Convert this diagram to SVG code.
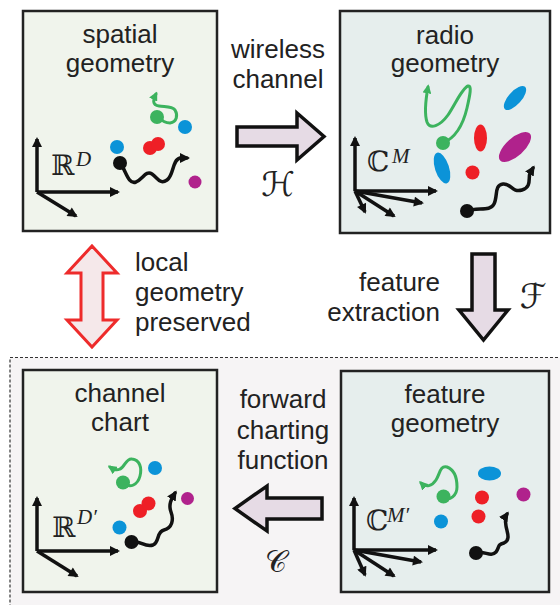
<svg xmlns="http://www.w3.org/2000/svg" width="560" height="605" viewBox="0 0 560 605">
<defs>
<style>
.box{stroke:#222;stroke-width:2.5}
.g1{fill:#f0f4ec}
.g2{fill:#e6eeed}
.t{font-family:"Liberation Sans",Arial,sans-serif;font-size:26px;fill:#222;text-anchor:middle}
.tl{text-anchor:start}
.tr{text-anchor:end}
.bb{font-family:"DejaVu Serif","DejaVu Sans",serif;font-size:28px;fill:#222}
.sup{font-family:"Liberation Serif","DejaVu Serif",serif;font-style:italic;font-size:21px;fill:#222}
.scr{font-family:"DejaVu Serif","DejaVu Sans",serif;font-size:34px;fill:#222;text-anchor:middle}
.ax{stroke:#111;stroke-width:3.5;fill:none;marker-end:url(#ah)}
.bk{stroke:#111;stroke-width:3.5;fill:none;stroke-linecap:round;marker-end:url(#ahb)}
.gr{stroke:#3cb35e;stroke-width:3;fill:none;stroke-linecap:round;stroke-linejoin:round;marker-end:url(#ahg)}
.big{fill:#e6dbe5;stroke:#111;stroke-width:3.5;stroke-linejoin:miter}
.blue{fill:#0b93d8}.red{fill:#ee1f26}.mag{fill:#b0228c}.grn{fill:#3cb35e}.blk{fill:#111}
</style>
<marker id="ah" viewBox="0 0 10 10" refX="8" refY="5" markerWidth="12" markerHeight="10" markerUnits="userSpaceOnUse" orient="auto"><path d="M0,0 L10,5 L0,10 z" fill="#111"/></marker>
<marker id="ahb" viewBox="0 0 10 10" refX="7" refY="5" markerWidth="10" markerHeight="10" markerUnits="userSpaceOnUse" orient="auto"><path d="M0,0 L10,5 L0,10 z" fill="#111"/></marker>
<marker id="ahg" viewBox="0 0 10 10" refX="7" refY="5" markerWidth="9" markerHeight="9" markerUnits="userSpaceOnUse" orient="auto"><path d="M0,0 L10,5 L0,10 z" fill="#3cb35e"/></marker>
</defs>
<rect width="560" height="605" fill="#fff"/>
<rect x="10" y="357.5" width="560" height="260" fill="#f6f4f5" stroke="#333" stroke-width="1.2" stroke-dasharray="3 2"/>

<g id="spatial">
<rect class="box g1" x="23" y="11" width="194" height="220"/>
<text class="t" x="120" y="43">spatial</text>
<text class="t" x="120" y="72">geometry</text>
<path class="ax" d="M37,192 V139"/>
<path class="ax" d="M37,192 H118"/>
<path class="ax" d="M37,192 L76,216"/>
<text class="bb" x="51" y="175">ℝ</text>
<text class="sup" x="76" y="166">D</text>
<path class="gr" d="M158,117 C162,121 166,123 170,123 C177,122 178,115 175,110 C172,106 165,107 159,106 C152,105 153,100 156,94"/>
<circle class="grn" cx="157" cy="117" r="7"/>
<circle class="blue" cx="185" cy="127" r="7"/>
<circle class="blue" cx="117" cy="147" r="7"/>
<circle class="red" cx="150" cy="148" r="7"/>
<circle class="red" cx="158" cy="144" r="7"/>
<path class="bk" d="M120,163 C126,170 128,185 136,182 C143,179 146,170 152,174 C158,178 160,185 167,180 C174,175 172,160 180,158 L187,158"/>
<circle class="blk" cx="120" cy="163" r="7"/>
<circle class="mag" cx="195" cy="182" r="6.5"/>
</g>

<g id="radio">
<rect class="box g2" x="340" y="11" width="210" height="222"/>
<text class="t" x="445" y="44">radio</text>
<text class="t" x="445" y="72">geometry</text>
<path class="ax" d="M355,191 V138"/>
<path class="ax" d="M355,191 H436"/>
<path class="ax" d="M355,191 L422,203"/>
<path class="ax" d="M355,191 L394,216"/>
<path class="ax" d="M355,191 L365,212"/>
<text class="bb" x="367" y="171">ℂ</text>
<text class="sup" x="392" y="163">M</text>
<path class="gr" d="M443,143 C455,138 463,125 467,108 C470,95 472,85 468,86 C462,88 455,105 448,115 C440,126 430,130 427,122 C424,113 426,98 428,87"/>
<circle class="grn" cx="443" cy="143" r="7"/>
<ellipse class="blue" cx="515" cy="98" rx="6.5" ry="15" transform="rotate(42 515 98)"/>
<ellipse class="red" cx="480.5" cy="138" rx="6.5" ry="13.5"/>
<ellipse class="mag" cx="515" cy="147" rx="9" ry="20" transform="rotate(48 515 147)"/>
<ellipse class="blue" cx="442" cy="168" rx="7" ry="16" transform="rotate(-18 442 168)"/>
<circle class="red" cx="472.5" cy="172.5" r="7"/>
<path class="bk" d="M467,211 C478,207 490,212 494,204 C498,196 494,185 503,184 C511,183 512,193 522,190 C532,187 528,178 530,173 L533,168"/>
<circle class="blk" cx="467" cy="211" r="7"/>
</g>

<g id="chart">
<rect class="box g1" x="23" y="370" width="194" height="222"/>
<text class="t" x="120" y="402">channel</text>
<text class="t" x="120" y="431">chart</text>
<path class="ax" d="M37,551 V498"/>
<path class="ax" d="M37,551 H118"/>
<path class="ax" d="M37,551 L77,576"/>
<text class="bb" x="52" y="537">ℝ</text>
<text class="sup" x="77" y="524">D′</text>
<path class="gr" d="M123,482 C130,490 138,484 140,476 C142,468 140,460 132,459 C126,458 125,467 120,469 C116,471 113,469 110,467"/>
<circle class="grn" cx="123" cy="482.5" r="7"/>
<circle class="blue" cx="155" cy="468" r="7"/>
<circle class="red" cx="140" cy="511" r="7"/>
<circle class="red" cx="148.5" cy="503.5" r="7"/>
<circle class="mag" cx="187.5" cy="498.5" r="6.5"/>
<circle class="blue" cx="119.5" cy="527.5" r="7"/>
<path class="bk" d="M132,542 C140,540 145,548 153,545 C160,542 156,532 164,530 C172,528 174,520 171,512 C168,504 172,498 175,493"/>
<circle class="blk" cx="131.5" cy="542" r="7"/>
</g>

<g id="feature">
<rect class="box g2" x="341" y="371" width="208" height="221"/>
<text class="t" x="445" y="403">feature</text>
<text class="t" x="445" y="432">geometry</text>
<path class="ax" d="M354,550 V498"/>
<path class="ax" d="M354,550 H436"/>
<path class="ax" d="M354,550 L421,562"/>
<path class="ax" d="M354,550 L394,576"/>
<path class="ax" d="M354,550 L365,575"/>
<text class="bb" x="366" y="530">ℂ</text>
<text class="sup" x="387" y="522">M′</text>
<path class="gr" d="M443,497 C450,502 457,495 457,487 C457,478 455,470 447,467 C440,465 440,474 436,480 C432,486 426,488 421,483"/>
<circle class="grn" cx="443.5" cy="496.5" r="7"/>
<ellipse class="blue" cx="489.5" cy="473.5" rx="11.5" ry="7"/>
<circle class="red" cx="482" cy="497.5" r="7"/>
<circle class="red" cx="478.5" cy="516.5" r="7"/>
<circle class="mag" cx="523.5" cy="494.5" r="7"/>
<circle class="blue" cx="441" cy="521.5" r="7"/>
<path class="bk" d="M476,553 C485,550 490,558 496,552 C500,546 497,545 504,543 C511,540 507,532 506,526 C505,520 505,517 507,514"/>
<circle class="blk" cx="476" cy="553" r="7"/>
</g>

<g id="connectors">
<g id="wireless">
<polygon class="big" points="237,127 297,127 297,113 324,136.5 297,160 297,146 237,146"/>
<text class="t" x="278" y="58">wireless</text>
<text class="t" x="278" y="88">channel</text>
<text class="scr" x="278" y="196">ℋ</text>
</g>
<g id="extraction">
<polygon class="big" points="472,254 495,254 495,310 508,310 483.5,340 459,310 472,310"/>
<text class="t tr" x="440" y="291">feature</text>
<text class="t tr" x="440" y="321">extraction</text>
<text class="scr" x="533" y="308">ℱ</text>
</g>
<g id="charting">
<polygon class="big" points="322,498 267,498 267,486 235,508.5 267,531 267,519 322,519"/>
<text class="t" x="283" y="408">forward</text>
<text class="t" x="283" y="438.5">charting</text>
<text class="t" x="283" y="469">function</text>
<text class="scr" x="276" y="572" style="font-size:30px">𝒞</text>
</g>
<g id="preserved">
<polygon points="92,246 117,273 103,273 103,320 117,320 92,347 67,320 81,320 81,273 67,273" fill="#f5e8ea" stroke="#ee2b2b" stroke-width="3"/>
<text class="t tl" x="135" y="271">local</text>
<text class="t tl" x="135" y="301">geometry</text>
<text class="t tl" x="135" y="331">preserved</text>
</g>
</g>
</svg>
